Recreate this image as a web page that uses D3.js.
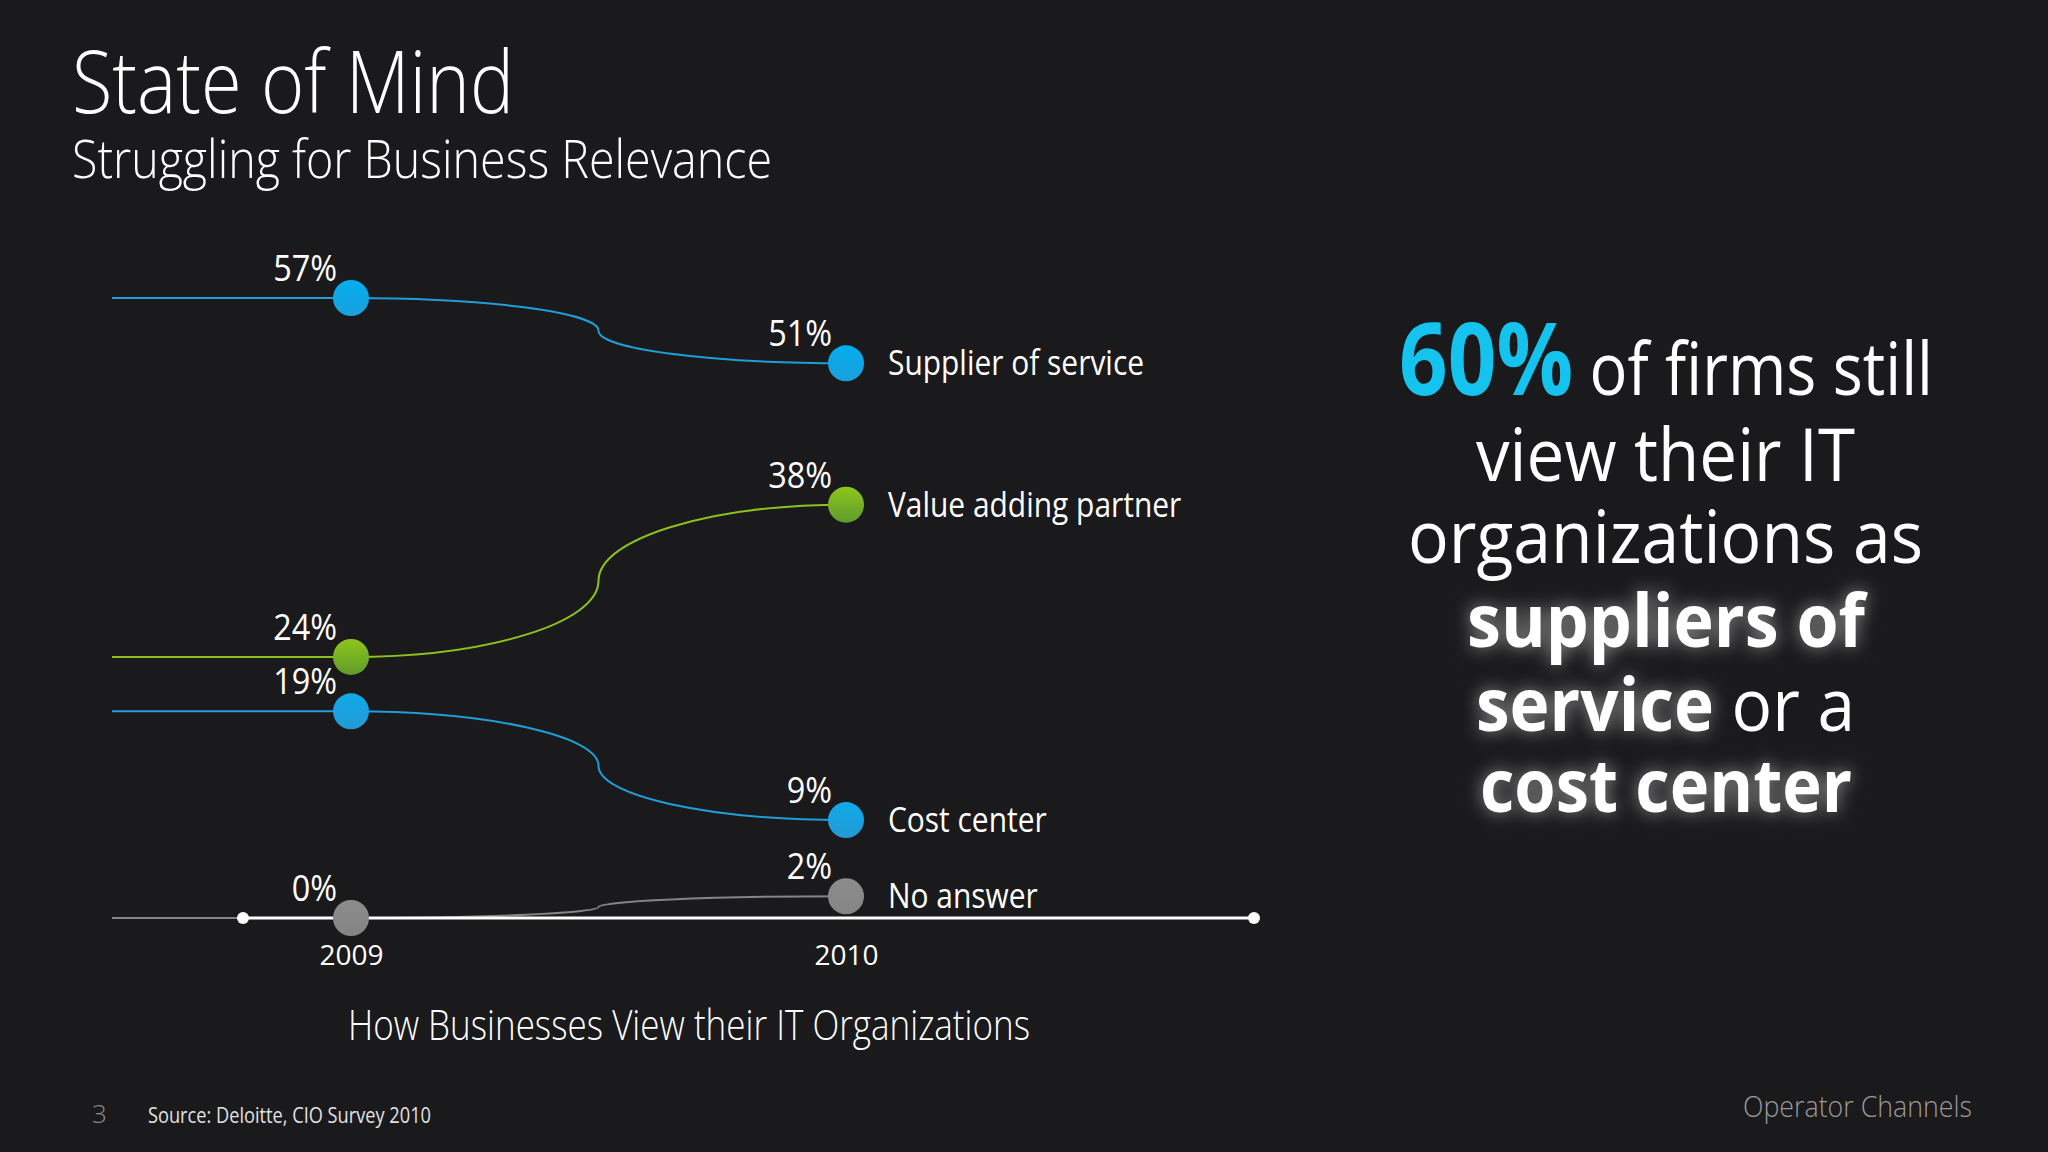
<!DOCTYPE html>
<html>
<head>
<meta charset="utf-8">
<script src="https://cdn.jsdelivr.net/npm/d3@7"></script>
<style>
  html, body { margin: 0; padding: 0; background: #1a191b; }
  svg { display: block; }
  text { font-family: "Open Sans", "Noto Sans", sans-serif; }
</style>
</head>
<body>
<script>
// ---------------- data ----------------
const years = [2009, 2010];
const categories = ["Supplier of service", "Value adding partner", "Cost center", "No answer"];
const values2009 = [57, 24, 19, 0];
const values2010 = [51, 38, 9, 2];
const yDomain = [0, 57];

const titleText = "State of Mind";
const subtitleText = "Struggling for Business Relevance";
const captionText = "How Businesses View their IT Organizations";
const sourceText = "Source: Deloitte, CIO Survey 2010";
const pageText = "3";
const footerText = "Operator Channels";
const calloutLines = [
  [{t: "60%", k: "big"}, {t: " of firms still", k: "reg"}],
  [{t: "view their IT", k: "reg"}],
  [{t: "organizations as", k: "reg"}],
  [{t: "suppliers of", k: "bold"}],
  [{t: "service", k: "bold"}, {t: " or a", k: "reg"}],
  [{t: "cost center", k: "bold"}]
];

// ---------------- styles ----------------
const lineColors = ["#1f9ed8", "#8cc21e", "#1f9ed8", "#858585"];
const dotTop = ["#03adee", "#8ec61a", "#10aaea", "#8c8c8c"];
const dotBottom = ["#1aa0dd", "#5f9b2c", "#2399d6", "#858585"];

const W = 2048, H = 1152;
const svg = d3.select("body").append("svg").attr("width", W).attr("height", H);
svg.append("rect").attr("width", W).attr("height", H).attr("fill", "#1a191b");

const defs = svg.append("defs");
categories.forEach((c, i) => {
  const g = defs.append("linearGradient").attr("id", "dg" + i)
    .attr("x1", 0).attr("y1", 0).attr("x2", 0).attr("y2", 1);
  g.append("stop").attr("offset", "0%").attr("stop-color", dotTop[i]);
  g.append("stop").attr("offset", "100%").attr("stop-color", dotBottom[i]);
});
const glow = defs.append("filter").attr("id", "glow")
  .attr("x", "-30%").attr("y", "-50%").attr("width", "160%").attr("height", "200%");
glow.append("feGaussianBlur").attr("in", "SourceAlpha").attr("stdDeviation", 9).attr("result", "b");
glow.append("feFlood").attr("flood-color", "#ffffff").attr("flood-opacity", 0.55).attr("result", "f");
glow.append("feComposite").attr("in", "f").attr("in2", "b").attr("operator", "in").attr("result", "g");
const gm = glow.append("feMerge");
gm.append("feMergeNode").attr("in", "g");
gm.append("feMergeNode").attr("in", "SourceGraphic");

function fit(sel, width) {
  sel.attr("textLength", width).attr("lengthAdjust", "spacingAndGlyphs");
}
function condense(sel, f) {
  sel.each(function() {
    const w = this.getComputedTextLength();
    d3.select(this).attr("textLength", w * f).attr("lengthAdjust", "spacingAndGlyphs");
  });
}

// ---------------- titles ----------------
svg.append("text").attr("x", 72).attr("y", 113).attr("fill", "#fff")
  .attr("font-size", 86).attr("font-weight", 300).text(titleText).call(fit, 442);
svg.append("text").attr("x", 72).attr("y", 178).attr("fill", "#fff")
  .attr("font-size", 54).attr("font-weight", 300).text(subtitleText).call(fit, 700);

// ---------------- chart ----------------
const x = d3.scaleLinear().domain(years).range([351, 846]);
const y = d3.scaleLinear().domain(yDomain).range([918, 298]);
const lineStartX = 112;
const axisX0 = 243, axisX1 = 1254;

function connector(v0, v1) {
  const x0 = x(years[0]), x1 = x(years[1]), y0 = y(v0), y1 = y(v1);
  const xm = (x0 + x1) / 2, ym = (y0 + y1) / 2, k = 0.5523;
  const p = d3.path();
  p.moveTo(lineStartX, y0);
  p.lineTo(x0, y0);
  p.bezierCurveTo(x0 + k * (xm - x0), y0, xm, ym - k * (ym - y0), xm, ym);
  p.bezierCurveTo(xm, ym + k * (y1 - ym), x1 - k * (x1 - xm), y1, x1, y1);
  return p.toString();
}

const rows = categories.map((c, i) => ({c, i, a: values2009[i], b: values2010[i]}));

svg.append("g").selectAll("path").data(rows).join("path")
  .attr("d", d => connector(d.a, d.b))
  .attr("fill", "none")
  .attr("stroke", d => lineColors[d.i])
  .attr("stroke-width", 2);

// axis
const axisG = svg.append("g").attr("transform", `translate(0,${y(0)})`);
axisG.append("line").attr("x1", axisX0).attr("x2", axisX1)
  .attr("stroke", "#fff").attr("stroke-width", 3);
axisG.selectAll("circle.end").data([axisX0, axisX1]).join("circle")
  .attr("class", "end").attr("cx", d => d).attr("r", 6).attr("fill", "#fff");
const ax = d3.axisBottom(x).tickValues(years).tickFormat(d3.format("d")).tickSize(0).tickPadding(27);
const axisTicks = svg.append("g").attr("transform", `translate(0,${y(0)})`).call(ax);
axisTicks.select(".domain").remove();
axisTicks.selectAll("text").attr("fill", "#fff").attr("font-size", 28)
  .attr("font-family", "'Open Sans', sans-serif");

// dots
const dotR = 18;
const dots = svg.append("g");
rows.forEach(d => {
  [[years[0], d.a], [years[1], d.b]].forEach(([yr, v]) => {
    dots.append("circle").attr("cx", x(yr)).attr("cy", y(v)).attr("r", dotR)
      .attr("fill", `url(#dg${d.i})`);
  });
});

// value labels
const lab = svg.append("g").attr("fill", "#fff").attr("font-size", 36);
rows.forEach(d => {
  [[years[0], d.a], [years[1], d.b]].forEach(([yr, v]) => {
    lab.append("text").attr("x", x(yr) - 14).attr("y", y(v) - 17)
      .attr("text-anchor", "end").text(v + "%").call(condense, 0.9);
  });
  lab.append("text").attr("x", x(years[1]) + 42).attr("y", y(d.b) + 12)
    .attr("font-size", 34).text(d.c).call(condense, 0.88);
});

// caption
svg.append("text").attr("x", 348).attr("y", 1040).attr("fill", "#fff")
  .attr("font-size", 42).attr("font-weight", 300).text(captionText).call(fit, 682);

// footer
svg.append("text").attr("x", 92).attr("y", 1123).attr("fill", "#8a8a8a")
  .attr("font-size", 26).attr("font-weight", 300).text(pageText);
svg.append("text").attr("x", 148).attr("y", 1123).attr("fill", "#e2e2e2")
  .attr("font-size", 21).text(sourceText).call(fit, 283);
svg.append("text").attr("x", 1743).attr("y", 1117).attr("fill", "#9a9a9a")
  .attr("font-size", 29).attr("font-weight", 300).text(footerText).call(fit, 229);

// callout: each segment its own text element, laid out left to right
const calloutBase = [395, 481, 563, 647, 731, 812];
const calloutLeft = [1399, 1476, 1408, 1467, 1476, 1480];
const calloutWidths = [534, 379, 515, 398, 379, 372];
const cg = svg.append("g");
calloutLines.forEach((line, li) => {
  const els = line.map(s => {
    const t = cg.append("text").attr("y", calloutBase[li]).attr("fill", "#fff")
      .attr("font-size", 74).attr("xml:space", "preserve").text(s.t);
    if (s.k === "big") t.attr("font-size", 100).attr("font-weight", 700).attr("fill", "#14c4ee");
    if (s.k === "bold") t.attr("font-weight", 700).attr("filter", "url(#glow)");
    return t;
  });
  const widths = els.map(t => t.node().getComputedTextLength());
  const total = d3.sum(widths);
  const f = calloutWidths[li] / total;
  let cx = calloutLeft[li];
  els.forEach((t, j) => {
    t.attr("x", cx).call(fit, widths[j] * f);
    cx += widths[j] * f;
  });
});
</script>
</body>
</html>
